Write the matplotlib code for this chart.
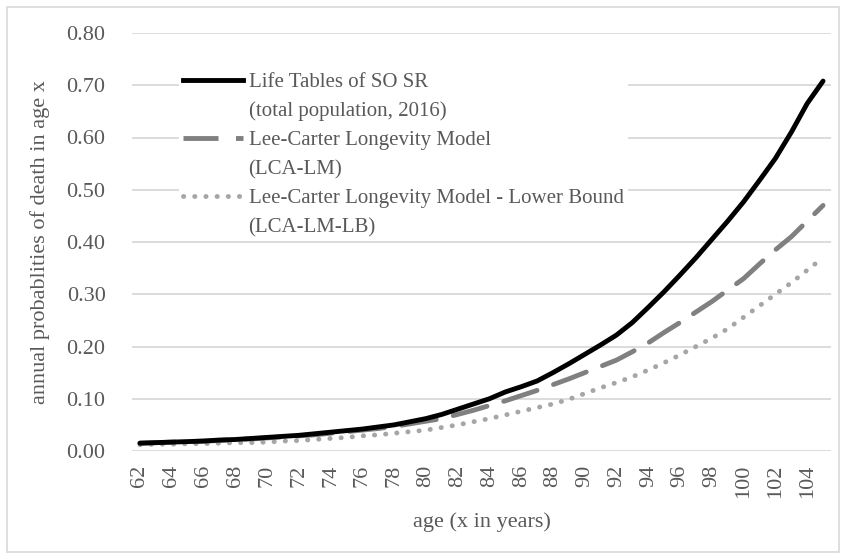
import matplotlib
matplotlib.use("Agg")
import matplotlib.pyplot as plt
from matplotlib.lines import Line2D
from matplotlib.patches import Rectangle

ages = list(range(62, 106))

life_tables = [0.015, 0.016, 0.017, 0.018, 0.019, 0.021, 0.022, 0.024, 0.026, 0.028,
               0.030, 0.033, 0.036, 0.039, 0.042, 0.046, 0.050, 0.056, 0.062, 0.070,
               0.080, 0.090, 0.100, 0.113, 0.123, 0.134, 0.150, 0.167, 0.185, 0.203,
               0.222, 0.246, 0.275, 0.305, 0.337, 0.370, 0.405, 0.440, 0.477, 0.518,
               0.560, 0.610, 0.665, 0.708]

lca_lm = [0.015, 0.016, 0.017, 0.018, 0.019, 0.020, 0.022, 0.023, 0.025, 0.027,
          0.029, 0.031, 0.034, 0.037, 0.040, 0.043, 0.047, 0.052, 0.057, 0.062,
          0.070, 0.078, 0.087, 0.096, 0.106, 0.116, 0.127, 0.138, 0.150, 0.162,
          0.174, 0.190, 0.207, 0.227, 0.246, 0.266, 0.286, 0.308, 0.330, 0.358,
          0.385, 0.410, 0.440, 0.470]

lca_lm_lb = [0.012, 0.013, 0.013, 0.014, 0.014, 0.015, 0.016, 0.016, 0.017, 0.019,
             0.020, 0.022, 0.024, 0.026, 0.029, 0.031, 0.034, 0.037, 0.040, 0.045,
             0.050, 0.056, 0.062, 0.069, 0.076, 0.083, 0.090, 0.099, 0.110, 0.121,
             0.131, 0.142, 0.155, 0.169, 0.184, 0.200, 0.216, 0.234, 0.256, 0.278,
             0.300, 0.322, 0.346, 0.370]

series_labels = [("Life Tables of SO SR", "(total population, 2016)"),
                 ("Lee-Carter Longevity Model", "(LCA-LM)"),
                 ("Lee-Carter Longevity Model - Lower Bound", "(LCA-LM-LB)")]

y_ticks = [0.0, 0.1, 0.2, 0.3, 0.4, 0.5, 0.6, 0.7, 0.8]
x_ticks = list(range(62, 105, 2))

plt.rcParams['font.family'] = ['Liberation Serif', 'DejaVu Serif']
TXT = '#595959'
FS = 16
LFS = 15

fig = plt.figure(figsize=(8.46, 5.59), dpi=100)
ax = fig.add_axes([132/846, 1-451/559, (831-132)/846, (451-33)/559])

lw = 3.5
DASH = (7.2, 3.6)
DOT = (0, (0.05, 2.25))
ax.plot(ages, life_tables, color='black', lw=lw, solid_capstyle='round', zorder=5)
ax.plot(ages, lca_lm, color='#808080', lw=lw, dashes=DASH, dash_capstyle='round', zorder=4)
ax.plot(ages, lca_lm_lb, color='#a6a6a6', lw=lw, linestyle=DOT, dash_capstyle='round', zorder=3)

ax.set_xlim(61.5, 105.5)
ax.set_ylim(0, 0.8)
ax.set_yticks(y_ticks)
ax.set_yticklabels([f"{v:.2f}" for v in y_ticks], fontsize=FS, color=TXT)
ax.set_xticks(x_ticks)
ax.set_xticklabels([str(v) for v in x_ticks], rotation=90, fontsize=FS, color=TXT)
ax.tick_params(axis='both', length=0)
ax.tick_params(axis='y', pad=19)
ax.tick_params(axis='x', pad=10)
ax.grid(axis='y', color='#d9d9d9', lw=1.3)
ax.set_axisbelow(True)
for s in ax.spines.values():
    s.set_visible(False)

ax.set_xlabel("age (x in years)", fontsize=FS, color=TXT, labelpad=10)
ax.set_ylabel("annual probablities of death in age x", fontsize=FS, color=TXT, labelpad=12)

blank = Line2D([], [], color='none')
handles = [Line2D([], [], color='black', lw=lw), blank,
           Line2D([], [], color='#808080', lw=lw, dashes=DASH), blank,
           Line2D([], [], color='#a6a6a6', lw=lw, linestyle=DOT, dash_capstyle='round'), blank]
labels = [series_labels[0][0], series_labels[0][1],
          series_labels[1][0], series_labels[1][1],
          series_labels[2][0], series_labels[2][1]]
leg = ax.legend(handles, labels, loc='upper left', bbox_to_anchor=(0.052, 0.94),
                frameon=True, fontsize=LFS, labelspacing=0.45, handlelength=2.9,
                handletextpad=0.25, borderpad=0.2, framealpha=1.0)
leg.get_frame().set_edgecolor('none')
for t in leg.get_texts():
    t.set_color(TXT)

fig.patches.append(Rectangle((7/846, 7/559), 1-14/846, 1-14/559, transform=fig.transFigure,
                             fill=False, edgecolor='#d9d9d9', lw=1.2))

fig.savefig("out.png", dpi=100)
